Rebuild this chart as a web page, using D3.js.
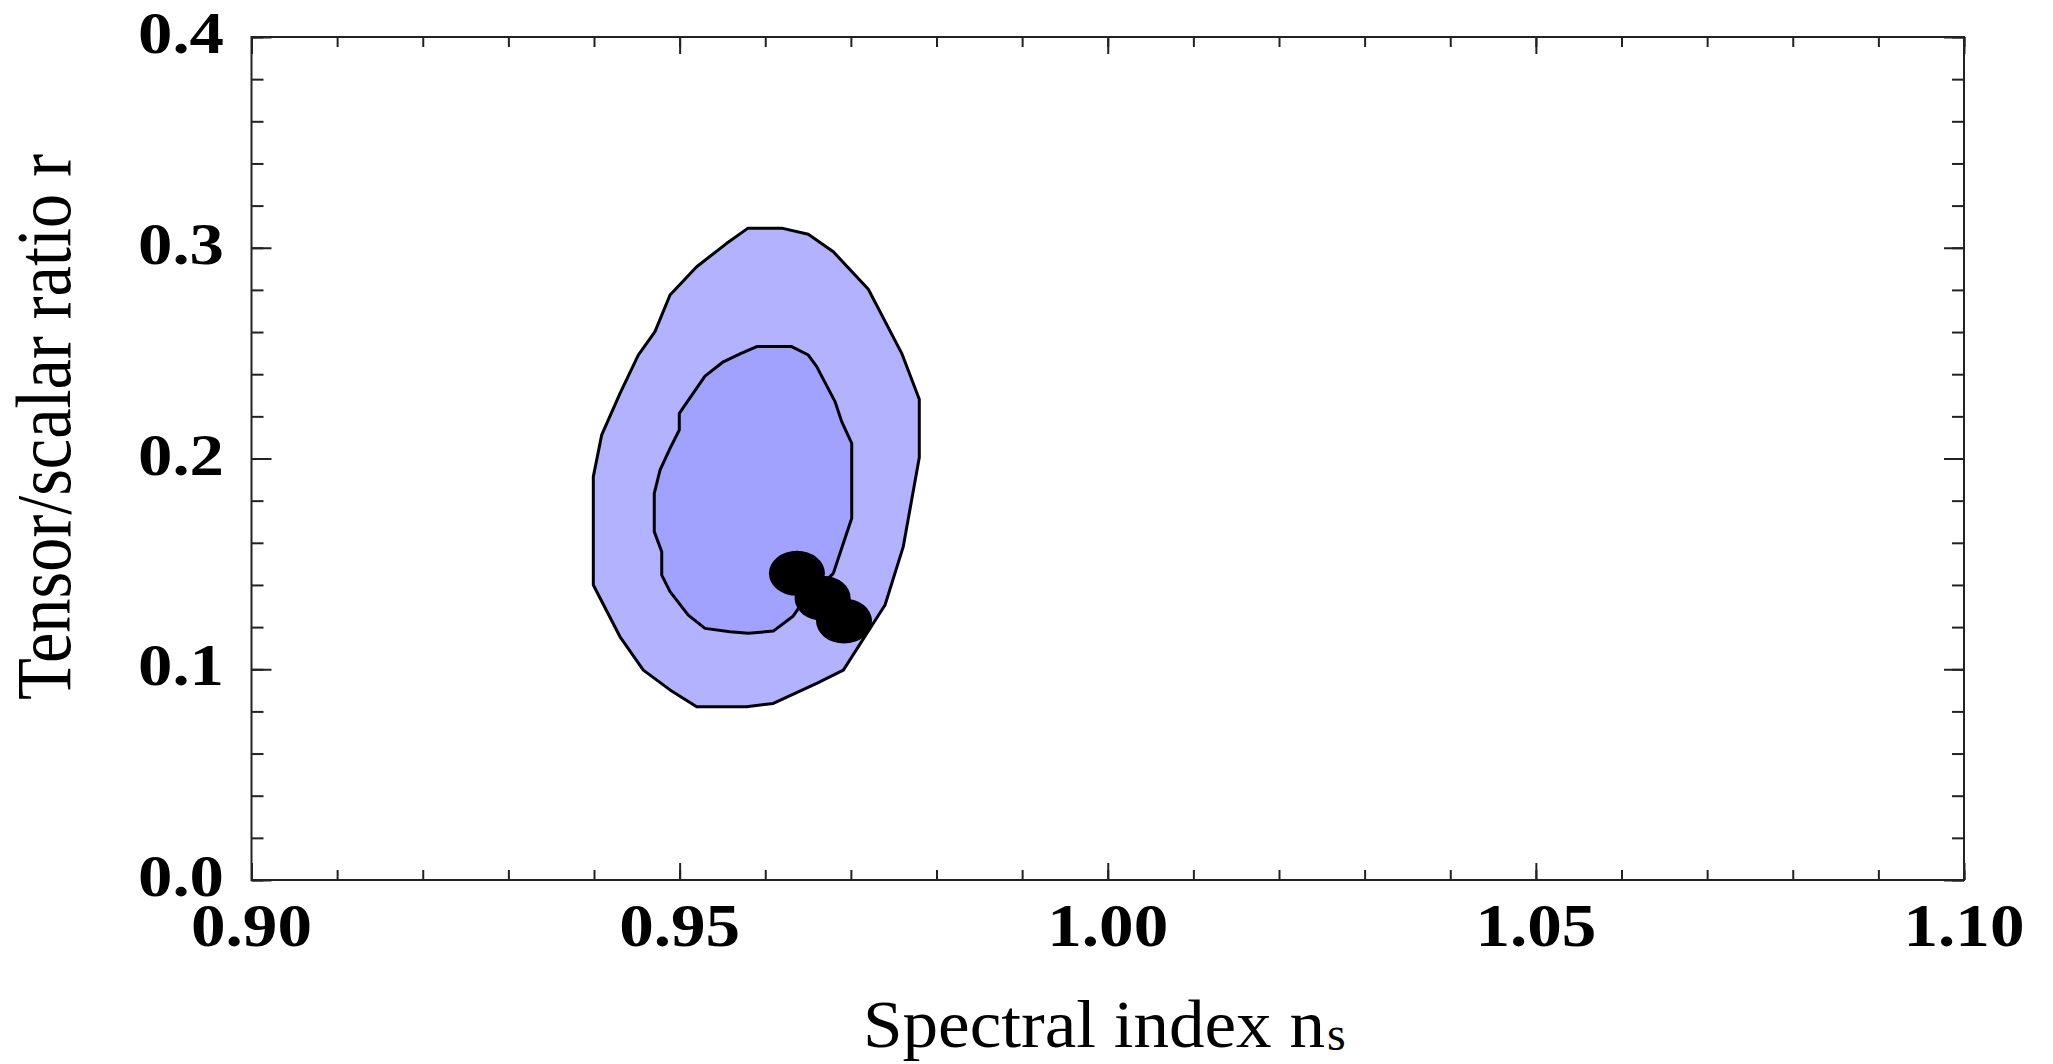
<!DOCTYPE html>
<html>
<head>
<meta charset="utf-8">
<script src="https://cdn.jsdelivr.net/npm/d3@7"></script>
<style>
  html, body { margin: 0; padding: 0; background: #ffffff; }
  svg { display: block; }
</style>
</head>
<body>
<script>
// ---- data ----
const outerNs = [0.95795, 0.96204, 0.96503, 0.96795, 0.97204, 0.97594, 0.97799, 0.97799, 0.97612, 0.97399, 0.96912, 0.96601, 0.96094, 0.95783, 0.95199, 0.94888, 0.94576, 0.94304, 0.93992, 0.93992, 0.94090, 0.94304, 0.94517, 0.94712, 0.94888, 0.95199, 0.95550];
const outerR  = [0.3092, 0.3092, 0.3064, 0.2981, 0.2803, 0.2499, 0.2281, 0.2005, 0.1582, 0.1305, 0.0996, 0.0933, 0.0838, 0.0822, 0.0822, 0.0902, 0.0996, 0.1154, 0.1400, 0.1914, 0.2112, 0.2309, 0.2491, 0.2602, 0.2776, 0.2910, 0.3021];

const innerNs = [0.95900, 0.96309, 0.96503, 0.96601, 0.96815, 0.96893, 0.97010, 0.97010, 0.96912, 0.96795, 0.96406, 0.96328, 0.96094, 0.95802, 0.95588, 0.95296, 0.95101, 0.94888, 0.94791, 0.94791, 0.94704, 0.94704, 0.94771, 0.94888, 0.94996, 0.94996, 0.95296, 0.95510, 0.95705];
const innerR  = [0.2531, 0.2531, 0.2491, 0.2436, 0.2270, 0.2175, 0.2072, 0.1716, 0.1598, 0.1455, 0.1300, 0.1253, 0.1181, 0.1171, 0.1178, 0.1194, 0.1257, 0.1368, 0.1447, 0.1558, 0.1653, 0.1835, 0.1945, 0.2048, 0.2135, 0.2214, 0.2391, 0.2459, 0.2496];

const pointNs = [0.9637, 0.9667, 0.9692];
const pointR  = [0.1455, 0.1337, 0.1229];

const xTickValues = [0.90, 0.95, 1.00, 1.05, 1.10];
const xTickLabels = ["0.90", "0.95", "1.00", "1.05", "1.10"];
const yTickValues = [0.0, 0.1, 0.2, 0.3, 0.4];
const yTickLabels = ["0.0", "0.1", "0.2", "0.3", "0.4"];

const xTitle = "Spectral index n";
const xTitleSub = "s";
const yTitle = "Tensor/scalar ratio r";

// ---- layout ----
const W = 2053, H = 1064;
const L = 251.5, R = 1964, T = 37, B = 880;

const x = d3.scaleLinear().domain([0.90, 1.10]).range([L, R]);
const y = d3.scaleLinear().domain([0.0, 0.4]).range([B, T]);

const svg = d3.select("body").append("svg")
  .attr("width", W).attr("height", H)
  .attr("viewBox", `0 0 ${W} ${H}`);

// ---- contours ----
const line = d3.line()
  .x(d => x(d[0])).y(d => y(d[1]))
  .curve(d3.curveLinearClosed);

const outer = outerNs.map((v, i) => [v, outerR[i]]);
const inner = innerNs.map((v, i) => [v, innerR[i]]);

svg.append("path").datum(outer)
  .attr("d", line)
  .attr("fill", "#b2b2ff")
  .attr("stroke", "#000")
  .attr("stroke-width", 3)
  .attr("stroke-linejoin", "round");

svg.append("path").datum(inner)
  .attr("d", line)
  .attr("fill", "#a1a1fe")
  .attr("stroke", "#000")
  .attr("stroke-width", 3)
  .attr("stroke-linejoin", "round");

// ---- points ----
svg.selectAll("ellipse.pt")
  .data(pointNs.map((v, i) => [v, pointR[i]]))
  .join("ellipse")
  .attr("class", "pt")
  .attr("cx", d => x(d[0]))
  .attr("cy", d => y(d[1]))
  .attr("rx", 28)
  .attr("ry", 22.5)
  .attr("fill", "#000");

// ---- axes (ticks pointing inward on all four sides) ----
const axisColor = "#222";
function styleAxis(g) {
  g.select(".domain").remove();
  g.selectAll(".tick line").attr("stroke", axisColor).attr("stroke-width", 2);
  g.selectAll(".tick text").remove();
}

const xMinor = x.ticks(20);
const yMinor = y.ticks(20);

// bottom
svg.append("g").attr("transform", `translate(0,${B})`)
  .call(d3.axisBottom(x).tickValues(xMinor).tickSize(-10)).call(styleAxis);
svg.append("g").attr("transform", `translate(0,${B})`)
  .call(d3.axisBottom(x).tickValues(xTickValues).tickSize(-17)).call(styleAxis);
// top
svg.append("g").attr("transform", `translate(0,${T})`)
  .call(d3.axisTop(x).tickValues(xMinor).tickSize(-10)).call(styleAxis);
svg.append("g").attr("transform", `translate(0,${T})`)
  .call(d3.axisTop(x).tickValues(xTickValues).tickSize(-17)).call(styleAxis);
// left
svg.append("g").attr("transform", `translate(${L},0)`)
  .call(d3.axisLeft(y).tickValues(yMinor).tickSize(-12)).call(styleAxis);
svg.append("g").attr("transform", `translate(${L},0)`)
  .call(d3.axisLeft(y).tickValues(yTickValues).tickSize(-20)).call(styleAxis);
// right
svg.append("g").attr("transform", `translate(${R},0)`)
  .call(d3.axisRight(y).tickValues(yMinor).tickSize(-12)).call(styleAxis);
svg.append("g").attr("transform", `translate(${R},0)`)
  .call(d3.axisRight(y).tickValues(yTickValues).tickSize(-20)).call(styleAxis);

// frame
svg.append("rect")
  .attr("x", L).attr("y", T)
  .attr("width", R - L).attr("height", B - T)
  .attr("fill", "none")
  .attr("stroke", axisColor)
  .attr("stroke-width", 2);

// ---- tick labels ----
const labelFont = "'Liberation Serif', 'DejaVu Serif', serif";
svg.append("g").selectAll("text")
  .data(xTickValues)
  .join("text")
  .attr("x", d => x(d))
  .attr("y", 946)
  .attr("text-anchor", "middle")
  .attr("font-family", labelFont)
  .attr("font-weight", "bold")
  .attr("font-size", 62)
  .attr("textLength", 121)
  .attr("lengthAdjust", "spacingAndGlyphs")
  .text((d, i) => xTickLabels[i]);

svg.append("g").selectAll("text")
  .data(yTickValues)
  .join("text")
  .attr("x", 224)
  .attr("y", d => y(d) + 16)
  .attr("text-anchor", "end")
  .attr("font-family", labelFont)
  .attr("font-weight", "bold")
  .attr("font-size", 59)
  .attr("textLength", 86)
  .attr("lengthAdjust", "spacingAndGlyphs")
  .text((d, i) => yTickLabels[i]);

// ---- axis titles ----
svg.append("text")
  .attr("x", 863)
  .attr("y", 1047)
  .attr("font-family", labelFont)
  .attr("font-size", 68)
  .attr("textLength", 462)
  .attr("lengthAdjust", "spacingAndGlyphs")
  .text(xTitle);
svg.append("text")
  .attr("x", 1327)
  .attr("y", 1050)
  .attr("font-family", labelFont)
  .attr("font-size", 48)
  .text(xTitleSub);

svg.append("text")
  .attr("transform", "translate(70,427) rotate(-90)")
  .attr("text-anchor", "middle")
  .attr("font-family", labelFont)
  .attr("font-size", 78)
  .attr("textLength", 546)
  .attr("lengthAdjust", "spacingAndGlyphs")
  .text(yTitle);
</script>
</body>
</html>
